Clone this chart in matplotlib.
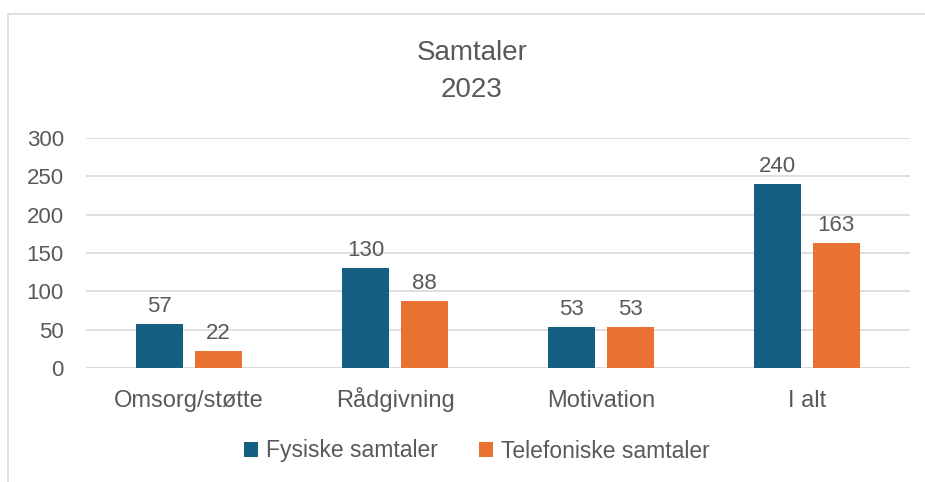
import matplotlib
matplotlib.use("Agg")
import matplotlib.pyplot as plt
import numpy as np
from matplotlib.patches import Rectangle

categories = ["Omsorg/støtte", "Rådgivning", "Motivation", "I alt"]
fysiske = [57, 130, 53, 240]
telefoniske = [22, 88, 53, 163]
series_names = ["Fysiske samtaler", "Telefoniske samtaler"]
yticks = [0, 50, 100, 150, 200, 250, 300]

BLUE = "#156082"
ORANGE = "#E97132"
TEXT = "#595959"
GRID = "#D9D9D9"

plt.rcParams['font.family'] = ['Liberation Sans', 'DejaVu Sans']

W, H = 925, 482
fig = plt.figure(figsize=(W/100, H/100), dpi=100)
fig.patch.set_facecolor("white")

# chart frame (left & top visible)
fig.add_artist(Rectangle((8/W, -0.1), 1.2, 1 - 14/H + 0.1, transform=fig.transFigure,
                         fill=False, edgecolor=GRID, linewidth=1.2))

x0, x1 = 86, 910
y300, y0 = 138, 368
ax = fig.add_axes([x0/W, 1 - y0/H, (x1 - x0)/W, (y0 - y300)/H])
ax.set_xlim(-0.5, 3.5)
ax.set_ylim(0, 300)

x = np.arange(len(categories))
bw = 0.228
off = 0.142
b1 = ax.bar(x - off, fysiske, bw, color=BLUE, label=series_names[0], zorder=3)
b2 = ax.bar(x + off, telefoniske, bw, color=ORANGE, label=series_names[1], zorder=3)

FS = 16
for bars in (b1, b2):
    for r in bars:
        ax.annotate(f"{int(r.get_height())}", (r.get_x() + r.get_width()/2, r.get_height()),
                    xytext=(0, 5), textcoords="offset points", ha="center", va="bottom",
                    fontsize=FS, color=TEXT, zorder=4)

ax.set_yticks(yticks)
ax.set_yticklabels([str(v) for v in yticks])
ax.set_xticks(x)
ax.set_xticklabels(categories)
ax.tick_params(axis='both', length=0, colors=TEXT)
ax.tick_params(axis='y', pad=16, labelsize=FS)
ax.tick_params(axis='x', pad=28, labelsize=17)
for lbl in ax.get_xticklabels():
    lbl.set_verticalalignment('baseline')
ax.grid(axis='y', color=GRID, linewidth=1.2, zorder=0)
for s in ax.spines.values():
    s.set_visible(False)
ax.axhline(0, color=GRID, linewidth=1.2, zorder=2)

fig.text(472/W, 1 - 53/H, "Samtaler", ha="center", va="center", fontsize=20, color=TEXT)
fig.text(472/W, 1 - 90/H, "2023", ha="center", va="center", fontsize=20, color=TEXT)

leg = fig.legend(handles=[b1, b2], labels=series_names, loc="center", bbox_to_anchor=(477/W, 1 - 451/H),
                 ncol=2, frameon=False, fontsize=16.5, handlelength=0.6, handleheight=0.6,
                 handletextpad=0.35, columnspacing=1.8)
for t in leg.get_texts():
    t.set_color(TEXT)

fig.savefig("out.png", dpi=100)
